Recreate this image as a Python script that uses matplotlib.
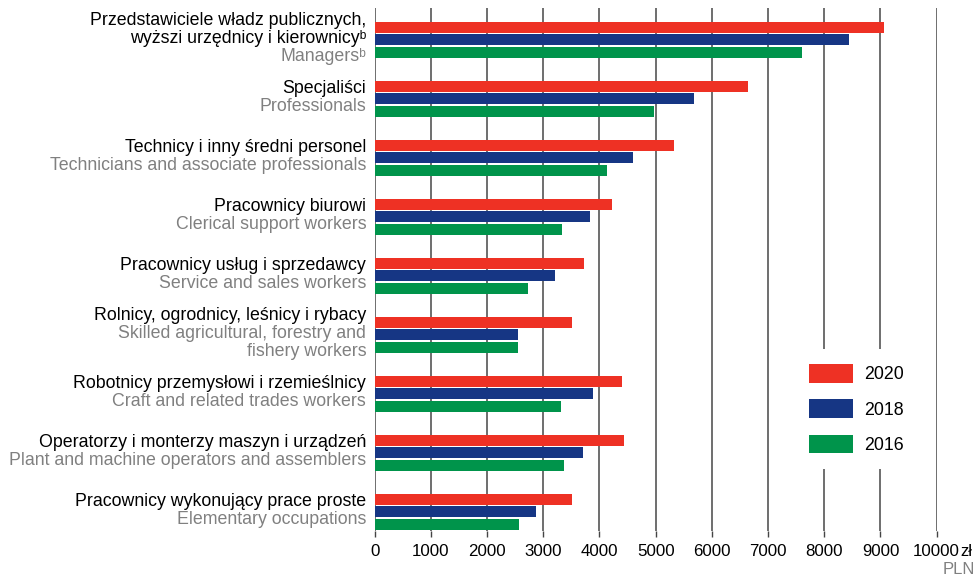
import numpy as np
import matplotlib
matplotlib.use('Agg')
import matplotlib.pyplot as plt
from matplotlib.patches import Patch

plt.rcParams['font.family'] = ['Liberation Sans', 'DejaVu Sans']

labels_pl = [
    "Przedstawiciele władz publicznych,\nwyższi urzędnicy i kierownicyᵇ",
    "Specjaliści",
    "Technicy i inny średni personel",
    "Pracownicy biurowi",
    "Pracownicy usług i sprzedawcy",
    "Rolnicy, ogrodnicy, leśnicy i rybacy",
    "Robotnicy przemysłowi i rzemieślnicy",
    "Operatorzy i monterzy maszyn i urządzeń",
    "Pracownicy wykonujący prace proste",
]
labels_en = [
    "Managersᵇ",
    "Professionals",
    "Technicians and associate professionals",
    "Clerical support workers",
    "Service and sales workers",
    "Skilled agricultural, forestry and\nfishery workers",
    "Craft and related trades workers",
    "Plant and machine operators and assemblers",
    "Elementary occupations",
]
years = ["2020", "2018", "2016"]
vals_2020 = [9066, 6644, 5330, 4226, 3726, 3512, 4404, 4440, 3512]
vals_2018 = [8443, 5685, 4596, 3833, 3210, 2552, 3888, 3710, 2870]
vals_2016 = [7606, 4975, 4135, 3335, 2730, 2552, 3317, 3370, 2570]
ticks = [0, 1000, 2000, 3000, 4000, 5000, 6000, 7000, 8000, 9000, 10000]

colors = ['#ee3124', '#163684', '#00944b']
grey = '#808080'
fs = 12.8

fig = plt.figure(figsize=(9.77, 5.77), dpi=100)
ax = fig.add_axes([0.3834, 0.0797, 0.5753, 0.9064])

y = np.arange(len(labels_pl))
h = 0.186
off = 0.212
for k, vals in enumerate([vals_2020, vals_2018, vals_2016]):
    ax.barh(y + (k - 1) * off, vals, height=h, color=colors[k], zorder=3)

ax.set_xlim(0, 10000)
ax.set_ylim(8.33, -0.534)
ax.set_xticks(ticks)
ax.set_xticklabels([str(t) for t in ticks], fontsize=12.2)
ax.set_yticks([])
for s in ax.spines.values():
    s.set_visible(False)
for t in ticks:
    ax.axvline(t, color='#555555', lw=1.2, zorder=1)
ax.tick_params(axis='x', length=4, width=1.0, color='#444444', pad=5)

# category labels: Polish in black, English in grey
step = 13.0
for i in y:
    lines = [(l, 'black') for l in labels_pl[i].split('\n')]
    lines += [(l, grey) for l in labels_en[i].split('\n')]
    n = len(lines)
    for k, (txt, c) in enumerate(lines):
        dy = ((n - 1) / 2 - k) * step + 0.8
        ax.annotate(txt, xy=(0, i), xycoords='data', xytext=(-6.0, dy),
                    textcoords='offset points', ha='right', va='center',
                    fontsize=fs, color=c, annotation_clip=False)

# unit labels
fig.text(960 / 977, 1 - 552 / 577, "zł", ha='left', va='center',
         fontsize=12, color='black')
fig.text(975 / 977, 1 - 569 / 577, "PLN", ha='right', va='center',
         fontsize=12, color=grey)

handles = [Patch(facecolor=c, edgecolor='none') for c in colors]
leg = ax.legend(handles, years, loc='center', bbox_to_anchor=(0.8575, 0.2335),
                fontsize=fs, frameon=True, fancybox=False, framealpha=1,
                facecolor='white', edgecolor='none', handlelength=2.47,
                handleheight=1.24, labelspacing=0.9, handletextpad=0.66,
                borderpad=0.84)
leg.set_zorder(5)

fig.savefig('out.png', dpi=100)
